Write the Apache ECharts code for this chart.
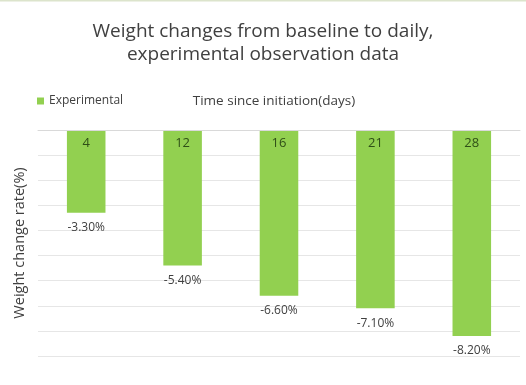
<!DOCTYPE html>
<html><head><meta charset="utf-8">
<script src="https://cdn.jsdelivr.net/npm/echarts@6/dist/echarts.min.js"></script>
<style>html,body{margin:0;padding:0;background:#fff}#c{width:526px;height:385px}</style>
</head><body><div id="c"></div>
<script>
const categories = ['4', '12', '16', '21', '28'];
const experimental = [-3.3, -5.4, -6.6, -7.1, -8.2];
const seriesName = 'Experimental';
const titleText = 'Weight changes from baseline to daily,\nexperimental observation data';
const xName = 'Time since initiation(days)';
const yName = 'Weight change rate(%)';

const chart = echarts.init(document.getElementById('c'));
const font = 'Open Sans, Noto Sans, sans-serif';
chart.setOption({
  animation: false,
  textStyle: { fontFamily: font },
  graphic: [{ type: 'rect', left: 0, top: 0, shape: { width: 526, height: 1.5 }, style: { fill: '#dce4cc' } }],
  title: {
    text: titleText, left: 'center', top: 15, padding: [5, 5, 5, 31],
    textStyle: { fontSize: 19, fontWeight: 'normal', color: '#404040', lineHeight: 23, fontFamily: font }
  },
  legend: {
    left: 32, top: 90, itemWidth: 7, itemHeight: 7, icon: 'rect',
    textStyle: { fontSize: 12, color: '#404040', fontFamily: font },
    data: [seriesName]
  },
  grid: { left: 38, right: 6, top: 130, bottom: 29 },
  xAxis: {
    type: 'category', position: 'top', data: categories, z: 10,
    name: xName, nameLocation: 'middle', nameGap: 22,
    nameTextStyle: { fontSize: 13.5, color: '#404040', padding: [0, 10, 0, 0] },
    axisLine: { show: true, lineStyle: { color: '#d9d9d9' } },
    axisTick: { show: false },
    axisLabel: { inside: true, margin: 7, fontSize: 13, color: '#2f4f17' }
  },
  yAxis: {
    type: 'value', min: -9, max: 0, interval: 1,
    name: yName, nameLocation: 'middle', nameGap: 11,
    nameTextStyle: { fontSize: 14.5, color: '#404040' },
    axisLine: { show: false }, axisTick: { show: false },
    axisLabel: { show: false },
    splitLine: { lineStyle: { color: '#e6e6e6' } }
  },
  series: [{
    name: seriesName, type: 'bar', data: experimental,
    barWidth: '40%',
    itemStyle: { color: '#92d050' },
    label: {
      show: true, position: 'bottom', distance: 9, fontSize: 12, color: '#404040',
      formatter: p => p.value.toFixed(2) + '%'
    }
  }]
});
</script></body></html>
